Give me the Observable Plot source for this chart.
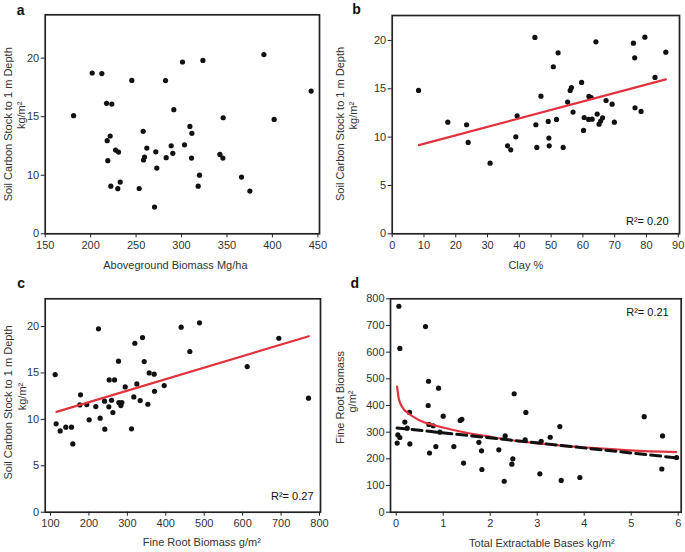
<!DOCTYPE html>
<html>
<head>
<meta charset="utf-8">
<script src="https://cdn.jsdelivr.net/npm/d3@7"></script>
<script src="https://cdn.jsdelivr.net/npm/@observablehq/plot@0.6"></script>
<style>
  html, body { margin: 0; padding: 0; background: #fff; }
  #wrap { position: relative; width: 685px; height: 552px; overflow: hidden; }
  #wrap > svg { position: absolute; }
</style>
</head>
<body>
<div id="wrap"></div>
<script>
// ---------- Panel a: Aboveground biomass vs soil carbon ----------
const aX = [181.2, 201.7, 212.3, 245.3, 282.4, 301.1, 323.5, 390.6, 442.6, 401.9, 345.8, 291.5, 217.5, 223.3, 221.5, 218.2, 227.4, 230.7, 218.9, 257.8, 261.8, 259.3, 258.2, 271.7, 272.8, 283.1, 288.6, 290.4, 303.3, 309.2, 311.4, 311.0, 319.8, 318.3, 342.2, 345.5, 366.0, 375.2, 222.2, 232.5, 229.9, 253.4, 270.3];
const aY = [15.09, 18.73, 18.68, 18.1, 18.08, 19.67, 19.8, 20.3, 17.19, 14.77, 14.91, 15.6, 16.14, 16.08, 13.35, 12.95, 12.15, 11.98, 11.24, 13.75, 12.32, 11.55, 11.3, 12.0, 10.61, 11.5, 12.52, 11.87, 12.6, 14.17, 13.58, 11.47, 10.01, 9.07, 11.78, 11.47, 9.84, 8.65, 9.07, 9.42, 8.85, 8.87, 7.28];
const aXTicks = [150, 200, 250, 300, 350, 400, 450];
const aYTicks = [5, 10, 15, 20];
const aYTickLabels = ["0", "10", "15", "20"];

// ---------- Panel b: Clay % vs soil carbon ----------
const bX = [8.29, 17.5, 23.4, 23.9, 30.8, 36.3, 37.3, 38.9, 39.3, 44.9, 45.2, 45.5, 46.8, 49.1, 49.3, 49.4, 50.7, 51.7, 52.2, 53.8, 55.2, 56.0, 56.4, 56.9, 59.6, 60.2, 60.4, 61.8, 61.9, 62.6, 62.9, 64.1, 64.5, 65.1, 65.6, 66.2, 67.3, 69.2, 69.9, 75.9, 76.3, 76.4, 78.3, 79.5, 82.7, 86.1];
const bY = [14.83, 11.55, 11.28, 9.45, 7.31, 9.1, 8.69, 10.03, 12.2, 20.31, 11.28, 8.93, 14.24, 11.62, 9.9, 9.1, 17.28, 11.83, 18.72, 8.93, 13.62, 14.83, 15.13, 12.59, 15.66, 10.69, 12.03, 11.83, 14.21, 14.1, 11.86, 19.86, 12.38, 11.34, 11.66, 12.0, 13.79, 13.41, 11.55, 19.72, 18.2, 13.03, 12.66, 20.34, 16.17, 18.79];
const bFitX = [8.4, 86.1];
const bFitY = [9.17, 15.97];
const bXTicks = [0, 10, 20, 30, 40, 50, 60, 70, 80, 90];
const bYTicks = [0, 5, 10, 15, 20];

// ---------- Panel c: Fine root biomass vs soil carbon ----------
const cX = [112.1, 114.7, 125.2, 139.9, 154.6, 158.1, 178.1, 176.3, 194.5, 200.6, 217.9, 224.9, 229.2, 240.5, 241.4, 252.7, 251.8, 258.8, 262.3, 266.6, 277.0, 277.8, 283.1, 285.7, 294.4, 310.8, 316.8, 319.5, 324.7, 333.4, 339.4, 343.8, 353.3, 356.8, 369.8, 370.7, 395.8, 440.0, 462.6, 487.8, 611.8, 694.2, 771.4];
const cY = [14.83, 9.52, 8.76, 9.16, 9.16, 7.36, 12.64, 11.56, 11.6, 9.95, 11.38, 19.75, 10.13, 11.96, 8.94, 14.25, 11.35, 12.06, 10.74, 14.25, 16.27, 11.81, 11.49, 11.81, 13.5, 8.98, 12.42, 18.2, 13.82, 12.03, 18.81, 16.23, 11.63, 15.0, 14.87, 13.03, 13.64, 19.93, 17.31, 20.4, 15.69, 18.74, 12.28];
const cFitX = [115.6, 772.2];
const cFitY = [10.81, 18.96];
const cXTicks = [100, 200, 300, 400, 500, 600, 700, 800];
const cYTicks = [0, 5, 10, 15, 20];

// ---------- Panel d: Total extractable bases vs fine root biomass ----------
const dX = [0.057, 0.078, 0.021, 0.035, 0.078, 0.184, 0.234, 0.284, 0.291, 0.624, 0.688, 0.681, 0.695, 0.709, 0.787, 0.844, 0.901, 0.929, 1.0, 1.227, 1.362, 1.397, 1.433, 1.759, 1.816, 1.823, 2.184, 2.298, 2.319, 2.461, 2.482, 2.511, 2.759, 2.745, 3.057, 3.085, 3.277, 3.482, 3.511, 3.908, 5.277, 5.652, 5.667, 5.965];
const dY = [772, 614, 259, 290, 280, 338, 315, 374, 256, 696, 491, 400, 329, 222, 324, 246, 465, 300, 360, 246, 344, 348, 184, 262, 230, 160, 234, 116, 286, 180, 200, 444, 374, 271, 144, 266, 281, 321, 119, 130, 358, 162, 286, 205];
const dCurveX = [0.02, 0.056, 0.128, 0.27, 0.48, 0.836, 1.19, 1.545, 1.9, 2.255, 2.61, 2.96, 3.566, 4.28, 4.985, 5.957];
const dCurveY = [471, 425, 394, 369, 346, 325, 309, 296, 286, 275, 266, 259, 249, 240, 232, 225];
const dDashX = [0.02, 5.96];
const dDashY = [316, 204];
const dXTicks = [0, 1, 2, 3, 4, 5, 6];
const dYTicks = [0, 100, 200, 300, 400, 500, 600, 700, 800];

// ---------- Text ----------
const soilLabel = "Soil Carbon Stock to 1 m Depth";
const soilUnit = "kg/m²";

const FONT = "'Liberation Sans', Arial, Helvetica, sans-serif";
const RED = "#e0323f";
const INK = "#333";

function panel(cfg) {
  const marks = [];
  marks.push(Plot.axisX({ticks: cfg.xTicks, tickSize: 4, tickPadding: 3, label: null, fontSize: 11, stroke: "#222", fill: INK,
    tickFormat: d => String(d)}));
  marks.push(Plot.axisY({ticks: cfg.yTicks, tickSize: 4, tickPadding: 2, label: null, fontSize: 11, stroke: "#222", fill: INK,
    tickFormat: cfg.yTickFormat || (d => String(d))}));
  marks.push(Plot.dot(cfg.x, {x: cfg.x, y: cfg.y, r: 2.6, fill: "#111", stroke: null}));
  marks.push(...cfg.lines || []);
  marks.push(Plot.frame({stroke: "#222", strokeWidth: 1.7}));
  marks.push(Plot.text([cfg.letter], {frameAnchor: "top-left", dx: cfg.letterDx, dy: cfg.letterDy, text: d => d,
    fontSize: 14, fontWeight: "bold", textAnchor: "start", lineAnchor: "bottom", fill: "#111"}));
  marks.push(Plot.text([cfg.yLabel1], {frameAnchor: "left", dx: cfg.yl1[0], dy: cfg.yl1[1], text: d => d, rotate: -90,
    fontSize: 11, textAnchor: "middle", lineAnchor: "middle", fill: INK}));
  marks.push(Plot.text([cfg.yLabel2], {frameAnchor: "left", dx: cfg.yl2[0], dy: cfg.yl2[1], text: d => d, rotate: -90,
    fontSize: 11, textAnchor: "middle", lineAnchor: "middle", fill: INK}));
  marks.push(Plot.text([cfg.xLabel], {frameAnchor: "bottom", dx: cfg.xl[0], dy: cfg.xl[1], text: d => d,
    fontSize: 11, textAnchor: "middle", lineAnchor: "middle", fill: INK}));
  if (cfg.r2) {
    marks.push(Plot.text([cfg.r2.text], {frameAnchor: cfg.r2.anchor, dx: cfg.r2.dx, dy: cfg.r2.dy, text: d => d,
      fontSize: 11, textAnchor: "end", lineAnchor: "middle", fill: "#111"}));
  }
  const svg = Plot.plot({
    width: cfg.w, height: cfg.h,
    marginLeft: cfg.m[0], marginRight: cfg.m[1], marginTop: cfg.m[2], marginBottom: cfg.m[3],
    x: {domain: cfg.xDomain},
    y: {domain: cfg.yDomain},
    style: {fontFamily: FONT, fontSize: "11px", color: INK, background: "transparent", overflow: "visible", maxWidth: "none"},
    marks
  });
  svg.style.left = cfg.left + "px";
  svg.style.top = cfg.top + "px";
  document.getElementById("wrap").appendChild(svg);
}

// a
panel({
  letter: "a", left: 0, top: 0, w: 340, h: 275, m: [44.7, 21, 14.3, 41.7],
  xDomain: [150, 451.8], yDomain: [5, 23.7],
  xTicks: aXTicks, yTicks: aYTicks,
  yTickFormat: d => aYTickLabels[aYTicks.indexOf(d)],
  x: aX, y: aY,
  letterDx: -28.5, letterDy: 0,
  yLabel1: soilLabel, yLabel2: soilUnit, yl1: [-37.2, 0], yl2: [-24, -9],
  xLabel: "Aboveground Biomass Mg/ha", xl: [-7, 31.7]
});

// b
panel({
  letter: "b", left: 340, top: 0, w: 345, h: 275, m: [51.7, 6, 15, 41.7],
  xDomain: [0, 90.4], yDomain: [0, 22.58],
  xTicks: bXTicks, yTicks: bYTicks,
  x: bX, y: bY,
  lines: [Plot.line(bFitX, {x: bFitX, y: bFitY, stroke: RED, strokeWidth: 2.2})],
  letterDx: -40, letterDy: -1.5,
  yLabel1: soilLabel, yLabel2: soilUnit, yl1: [-51.7, -0.7], yl2: [-38.7, -9],
  xLabel: "Clay %", xl: [-10, 31.7],
  r2: {text: "R²= 0.20", anchor: "bottom-right", dx: -11, dy: -12}
});

// c
panel({
  letter: "c", left: 0, top: 275, w: 340, h: 277, m: [44.7, 20, 23.3, 40.3],
  xDomain: [86.2, 802.6], yDomain: [0, 22.99],
  xTicks: cXTicks, yTicks: cYTicks,
  x: cX, y: cY,
  lines: [Plot.line(cFitX, {x: cFitX, y: cFitY, stroke: RED, strokeWidth: 2.2})],
  letterDx: -28, letterDy: -10.5,
  yLabel1: soilLabel, yLabel2: soilUnit, yl1: [-36.4, -3], yl2: [-23, -9],
  xLabel: "Fine Root Biomass g/m²", xl: [19, 30],
  r2: {text: "R²= 0.27", anchor: "bottom-right", dx: -7, dy: -15.7}
});

// d
panel({
  letter: "d", left: 340, top: 275, w: 345, h: 277, m: [50, 4.3, 23.3, 40.3],
  xDomain: [-0.121, 6.064], yDomain: [0, 800],
  xTicks: dXTicks, yTicks: dYTicks,
  x: dX, y: dY,
  lines: [
    Plot.line(dCurveX, {x: dCurveX, y: dCurveY, stroke: RED, strokeWidth: 2.2, curve: "monotone-x"}),
    Plot.line(dDashX, {x: dDashX, y: dDashY, stroke: "#111", strokeWidth: 3, strokeDasharray: "10,5"})
  ],
  letterDx: -40, letterDy: -10.5,
  yLabel1: "Fine Root Biomass", yLabel2: "g/m²", yl1: [-50, -8], yl2: [-38, -4],
  xLabel: "Total Extractable Bases kg/m²", xl: [6, 31],
  r2: {text: "R²= 0.21", anchor: "top-right", dx: -12.5, dy: 13.4}
});
</script>
</body>
</html>
